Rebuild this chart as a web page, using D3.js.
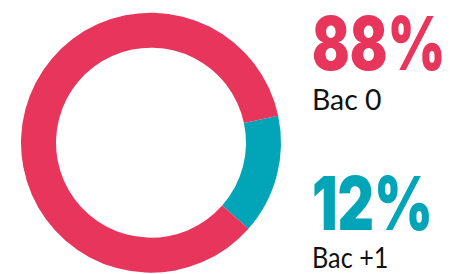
<!DOCTYPE html>
<html><head><meta charset="utf-8">
<script src="https://cdn.jsdelivr.net/npm/d3@7"></script>
<style>html,body{margin:0;padding:0;background:#fff;}svg{display:block;}</style>
</head><body>
<script>
const categories = ["Bac +1", "Bac 0"];
const shares = [14.85, 85.15];          // slice sizes as drawn
const percentLabels = ["12%", "88%"];
const colors = ["#02A5B8", "#E8355B"];

const W = 456, H = 274;
const svg = d3.select("body").append("svg").attr("width", W).attr("height", H);

const cx = 151, cy = 142.7, rOuter = 130, rInner = 95;
const pie = d3.pie().sort(null).value(d => d)
  .startAngle(78 * Math.PI / 180).endAngle(78 * Math.PI / 180 + 2 * Math.PI);
const arc = d3.arc().innerRadius(rInner).outerRadius(rOuter);

svg.append("g").attr("transform", `translate(${cx},${cy})`)
  .selectAll("path").data(pie(shares)).join("path")
  .attr("d", arc).attr("fill", (d, i) => colors[i]);

const blocks = [
  {i: 1, pctBase: 70, pctW: 133.5, catBase: 110.5, catW: 69.5},
  {i: 0, pctBase: 230, pctW: 121, catBase: 268.3, catW: 76.5}
];
const x0 = 312;
function fitText(sel, targetW) {
  const w = sel.node().getComputedTextLength();
  const sx = targetW / w;
  const x = +sel.attr("x"), y = +sel.attr("y");
  sel.attr("transform", `translate(${x},${y}) scale(${sx},1) translate(${-x},${-y})`);
}
blocks.forEach(b => {
  const t = svg.append("text").attr("x", x0).attr("y", b.pctBase)
    .attr("font-family", "Inter, sans-serif").attr("font-weight", 900)
    .attr("font-size", 74).attr("fill", colors[b.i]).text(percentLabels[b.i]);
  fitText(t, b.pctW);
  const c = svg.append("text").attr("x", x0).attr("y", b.catBase)
    .attr("font-family", "Lato, sans-serif").attr("font-weight", 400)
    .attr("font-size", 28.5).attr("fill", "#111").text(categories[b.i]);
  fitText(c, b.catW);
});
</script>
</body></html>
